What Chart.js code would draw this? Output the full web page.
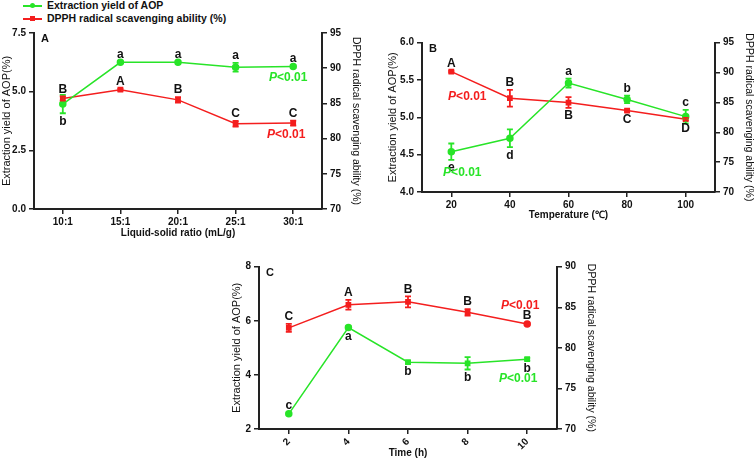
<!DOCTYPE html>
<html>
<head>
<script src="https://cdn.jsdelivr.net/npm/chart.js@4.4.2/dist/chart.umd.min.js"></script>
<style>
    body { margin:0; width:756px; height:459px; background:#fff; position:relative; overflow:hidden; font-family:"Liberation Sans", Arial, sans-serif; }
    canvas { position:absolute; }
    .legend { position:absolute; left:23px; top:-1px; font-weight:bold; font-size:10.5px; color:#111; }
    .legend div { height:13px; line-height:13px; position:relative; padding-left:24px; white-space:nowrap; }
    .legend .ln { position:absolute; left:0; top:6px; width:19px; height:1.5px; }
    .legend .mk { position:absolute; left:7px; top:4px; width:5px; height:5px; }
</style>
</head>
<body>
<div class="legend">
    <div><span class="ln" style="background:rgb(40,228,40)"></span><span class="mk" style="background:rgb(40,228,40);border-radius:50%"></span>Extraction yield of AOP</div>
    <div><span class="ln" style="background:rgb(244,30,30)"></span><span class="mk" style="background:rgb(244,30,30)"></span>DPPH radical scavenging ability (%)</div>
</div>
<canvas id="chartA" width="380" height="250" style="left:0;top:0"></canvas>
<canvas id="chartB" width="376" height="225" style="left:380px;top:0"></canvas>
<canvas id="chartC" width="440" height="220" style="left:180px;top:240px"></canvas>
<script>
    const GREEN = 'rgb(40,228,40)';
    const RED = 'rgb(244,30,30)';
    const FONT = '"Liberation Sans", Arial, sans-serif';

    // A: liquid-solid ratio
    const ratioLabels = ['10:1', '15:1', '20:1', '25:1', '30:1'];
    const ratioYield = [4.47, 6.25, 6.25, 6.04, 6.07];
    const ratioYieldErr = [0.39, 0.03, 0.03, 0.19, 0.05];
    const ratioDpph = [85.7, 86.95, 85.5, 82.1, 82.2];
    const ratioDpphErr = [0.3, 0.15, 0.4, 0.4, 0.35];
    const ratioYieldLetters = ['b', 'a', 'a', 'a', 'a'];
    const ratioDpphLetters = ['B', 'A', 'B', 'C', 'C'];

    // B: temperature
    const tempLabels = ['20', '40', '60', '80', '100'];
    const tempYield = [4.54, 4.72, 5.46, 5.24, 5.01];
    const tempYieldErr = [0.11, 0.12, 0.06, 0.05, 0.09];
    const tempDpph = [90.15, 85.7, 84.98, 83.64, 82.2];
    const tempDpphErr = [0.15, 1.4, 0.9, 0.2, 0.2];
    const tempYieldLetters = ['e', 'd', 'a', 'b', 'c'];
    const tempDpphLetters = ['A', 'B', 'B', 'C', 'D'];

    // C: time
    const timeLabels = ['2', '4', '6', '8', '10'];
    const timeYield = [2.56, 5.75, 4.47, 4.43, 4.58];
    const timeYieldErr = [0.03, 0.04, 0.05, 0.23, 0.05];
    const timeDpph = [82.46, 85.3, 85.67, 84.38, 82.95];
    const timeDpphErr = [0.5, 0.6, 0.68, 0.4, 0.1];
    const timeYieldLetters = ['c', 'a', 'b', 'b', 'b'];
    const timeDpphLetters = ['C', 'A', 'B', 'B', 'B'];

    function pLabel(ctx, x, y, color) {
        const fi = 'italic bold 12px ' + FONT;
        const fb = 'bold 12px ' + FONT;
        ctx.save();
        ctx.fillStyle = color;
        ctx.textBaseline = 'middle';
        ctx.textAlign = 'left';
        ctx.font = fi;
        const w1 = ctx.measureText('P').width;
        ctx.font = fb;
        const w2 = ctx.measureText('<0.01').width;
        const x0 = x - (w1 + w2) / 2;
        ctx.font = fi;
        ctx.fillText('P', x0, y);
        ctx.font = fb;
        ctx.fillText('<0.01', x0 + w1, y);
        ctx.restore();
    }

    // error bars, significance letters, P labels and panel tag
    const marks = {
        id: 'marks',
        afterDatasetsDraw(chart, args, opts) {
            const ctx = chart.ctx;
            chart.data.datasets.forEach((ds, i) => {
                const meta = chart.getDatasetMeta(i);
                const sc = chart.scales[ds.yAxisID];
                ctx.save();
                ctx.strokeStyle = ds.borderColor;
                ctx.lineWidth = 1.8;
                meta.data.forEach((pt, j) => {
                    const v = ds.data[j], e = ds.err[j];
                    const top = sc.getPixelForValue(v + e);
                    const bot = sc.getPixelForValue(v - e);
                    ctx.beginPath();
                    ctx.moveTo(pt.x, top); ctx.lineTo(pt.x, bot);
                    ctx.moveTo(pt.x - 3, top); ctx.lineTo(pt.x + 3, top);
                    ctx.moveTo(pt.x - 3, bot); ctx.lineTo(pt.x + 3, bot);
                    ctx.stroke();
                    ctx.fillStyle = '#111';
                    ctx.font = 'bold 12px ' + FONT;
                    ctx.textAlign = 'center';
                    ctx.textBaseline = 'middle';
                    const ly = ds.place[j] === 'above' ? Math.min(top, pt.y) - 7 : Math.max(bot, pt.y) + 8;
                    ctx.fillText(ds.letters[j], pt.x, ly);
                });
                ctx.restore();
            });
            opts.p.forEach(p => {
                const pt = chart.getDatasetMeta(p.ds).data[p.idx];
                pLabel(ctx, pt.x + p.dx, pt.y + p.dy, chart.data.datasets[p.ds].borderColor);
            });
            ctx.save();
            ctx.font = 'bold 11px ' + FONT;
            ctx.fillStyle = '#111';
            ctx.textAlign = 'center';
            ctx.textBaseline = 'middle';
            ctx.fillText(opts.tag, chart.chartArea.left + 11, chart.chartArea.top + 6);
            ctx.restore();
        }
    };

    function axisGrid() {
        return { drawOnChartArea: false, drawTicks: true, tickLength: 5, color: '#222', lineWidth: 1.5, offset: false };
    }

    function panel(id, c) {
        return new Chart(document.getElementById(id), {
            type: 'line',
            data: {
                labels: c.labels,
                datasets: [
                    {
                        label: 'Extraction yield of AOP', data: c.yield, err: c.yieldErr,
                        letters: c.yieldLetters, place: c.yieldPlace, yAxisID: 'y',
                        borderColor: GREEN, backgroundColor: GREEN, borderWidth: 1.5,
                        pointStyle: c.greenPt, pointRadius: 3
                    },
                    {
                        label: 'DPPH radical scavenging ability (%)', data: c.dpph, err: c.dpphErr,
                        letters: c.dpphLetters, place: c.dpphPlace, yAxisID: 'y2',
                        borderColor: RED, backgroundColor: RED, borderWidth: 1.5,
                        pointStyle: c.redPt, pointRadius: 3
                    }
                ]
            },
            options: {
                responsive: false,
                animation: false,
                layout: { padding: c.pad },
                plugins: {
                    legend: { display: false },
                    tooltip: { enabled: false },
                    marks: { p: c.p, tag: c.tag }
                },
                scales: {
                    x: {
                        offset: true,
                        grid: axisGrid(),
                        border: { color: '#222', width: 2 },
                        ticks: {
                            autoSkip: false,
                            color: '#111', padding: 2, font: { family: FONT, size: 10, weight: 'bold' },
                            minRotation: c.rot, maxRotation: c.rot
                        },
                        title: { display: true, text: c.xTitle, color: '#111', padding: 0, font: { family: FONT, size: 10, weight: 'bold' } },
                        afterFit: s => { s.height = c.xh; }
                    },
                    y: {
                        position: 'left',
                        min: c.yMin, max: c.yMax,
                        grid: axisGrid(),
                        border: { color: '#222', width: 2 },
                        ticks: {
                            stepSize: c.yStep, color: '#111', padding: 3,
                            font: { family: FONT, size: 10, weight: 'bold' },
                            callback: v => v.toFixed(c.yDec)
                        },
                        title: { display: true, text: 'Extraction yield of AOP(%)', color: '#111', padding: 0, font: { family: FONT, size: 11 } },
                        afterFit: s => { s.width = c.yw; }
                    },
                    y2: {
                        position: 'right',
                        min: 70, max: c.y2Max,
                        grid: axisGrid(),
                        border: { color: '#222', width: 2 },
                        ticks: {
                            stepSize: 5, color: '#111', padding: 3,
                            font: { family: FONT, size: 10, weight: 'bold' }
                        },
                        title: { display: true, text: 'DPPH radical scavenging ability (%)', color: '#111', padding: 0, font: { family: FONT, size: 10.5 } },
                        afterFit: s => { s.width = c.y2w; }
                    }
                }
            },
            plugins: [marks]
        });
    }

    panel('chartA', {
        labels: ratioLabels, yield: ratioYield, yieldErr: ratioYieldErr, dpph: ratioDpph, dpphErr: ratioDpphErr,
        yieldLetters: ratioYieldLetters, dpphLetters: ratioDpphLetters,
        yieldPlace: ['below', 'above', 'above', 'above', 'above'],
        dpphPlace: ['above', 'above', 'above', 'above', 'above'],
        greenPt: 'circle', redPt: 'rect',
        xTitle: 'Liquid-solid ratio (mL/g)', rot: 0,
        yMin: 0, yMax: 7.5, yStep: 2.5, yDec: 1, y2Max: 95,
        pad: { left: 0, right: 18, top: 33, bottom: 11 }, yw: 34, y2w: 40, xh: 30,
        p: [{ ds: 0, idx: 4, dx: -5, dy: 11 }, { ds: 1, idx: 4, dx: -7, dy: 12 }],
        tag: 'A'
    });

    panel('chartB', {
        labels: tempLabels, yield: tempYield, yieldErr: tempYieldErr, dpph: tempDpph, dpphErr: tempDpphErr,
        yieldLetters: tempYieldLetters, dpphLetters: tempDpphLetters,
        yieldPlace: ['below', 'below', 'above', 'above', 'above'],
        dpphPlace: ['above', 'above', 'below', 'below', 'below'],
        greenPt: 'circle', redPt: 'rect',
        xTitle: 'Temperature (\u2103)', rot: 0,
        yMin: 4, yMax: 6, yStep: 0.5, yDec: 1, y2Max: 95,
        pad: { left: 6.4, right: 1, top: 42.7, bottom: 4 }, yw: 35.6, y2w: 40, xh: 29,
        p: [{ ds: 1, idx: 0, dx: 16, dy: 25 }, { ds: 0, idx: 0, dx: 11, dy: 21 }],
        tag: 'B'
    });

    panel('chartC', {
        labels: timeLabels, yield: timeYield, yieldErr: timeYieldErr, dpph: timeDpph, dpphErr: timeDpphErr,
        yieldLetters: timeYieldLetters, dpphLetters: timeDpphLetters,
        yieldPlace: ['above', 'below', 'below', 'below', 'below'],
        dpphPlace: ['above', 'above', 'above', 'above', 'above'],
        greenPt: ['circle', 'circle', 'rect', 'rect', 'rect'], redPt: ['rect', 'rect', 'rect', 'rect', 'circle'],
        xTitle: 'Time (h)', rot: 45,
        yMin: 2, yMax: 8, yStep: 2, yDec: 0, y2Max: 90,
        pad: { left: 50.1, right: 23, top: 26.7, bottom: 0.7 }, yw: 28.9, y2w: 40, xh: 30.3,
        p: [{ ds: 1, idx: 4, dx: -7, dy: -18 }, { ds: 0, idx: 4, dx: -9, dy: 19 }],
        tag: 'C'
    });
</script>
</body>
</html>
